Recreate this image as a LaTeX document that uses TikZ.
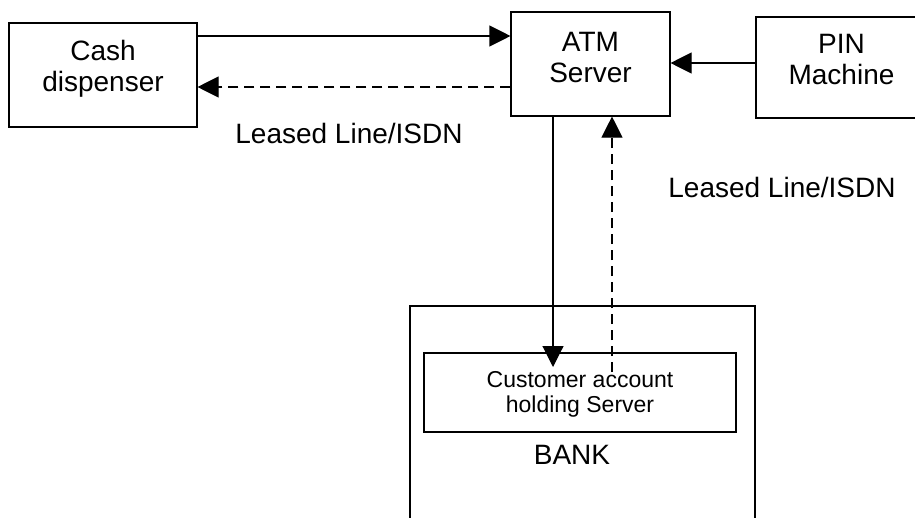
\documentclass[tikz,border=0pt]{standalone}
\usepackage{fontspec}
\setmainfont{Liberation Sans}
\usetikzlibrary{arrows.meta}

\begin{document}
\begin{tikzpicture}[x=1pt, y=-1pt,
  box/.style={draw, line width=1.1pt, inner sep=0pt},
  txt/.style={inner sep=0pt, align=center, font=\fontsize{28}{31}\selectfont},
  smalltxt/.style={inner sep=0pt, align=center, font=\fontsize{23}{25}\selectfont},
  conn/.style={line width=1.1pt, -{Triangle[length=21pt, width=21pt]}},
  dashconn/.style={conn, dash pattern=on 10pt off 6pt}]

  % page frame; everything outside it is cut off
  \clip (0,0) rectangle (915,517);

  % boxes
  \node[box, minimum width=188pt, minimum height=104pt] (cash) at (103,75) {};
  \node[box, minimum width=159pt, minimum height=104pt] (atm)  at (590.5,64) {};
  \node[box, minimum width=171pt, minimum height=101pt] (pin)  at (841.5,67.5) {};
  \node[box, minimum width=345pt, minimum height=240pt] (bank) at (582.5,426) {};
  \node[box, minimum width=312pt, minimum height=79pt]  (cust) at (580,392.5) {};

  % box texts
  \node[txt, anchor=north] (cashtxt) at ([yshift=-18pt]cash.north) {Cash\\dispenser};
  \node[txt, anchor=north] (atmtxt)  at ([yshift=-21pt]atm.north)  {ATM\\Server};
  \node[txt, anchor=north] (pintxt)  at ([yshift=-18pt]pin.north)  {PIN\\Machine};
  \node[smalltxt, anchor=north] (custtxt) at ([yshift=-19pt]cust.north) {Customer account\\holding Server};
  \node[txt, anchor=base] (banktxt) at (572,464) {BANK};

  % line labels
  \node[txt, anchor=base] (lease1) at (349,143) {Leased Line/ISDN};
  \node[txt, anchor=base] (lease2) at (782,197) {Leased Line/ISDN};

  % connector ends that reach into the customer server box
  \coordinate (downtip) at (553,367);
  \coordinate (upstart) at (612,372);

  % connectors
  \draw[conn]     (cash.east |- 0,36) -- (atm.west |- 0,36);
  \draw[dashconn] (atm.west |- 0,87)  -- (cash.east |- 0,87);
  \draw[conn]     (pin.west |- 0,63)  -- (atm.east |- 0,63);
  \draw[conn]     (atm.south -| downtip) -- (downtip);
  \draw[dashconn] (upstart) -- (atm.south -| upstart);
\end{tikzpicture}
\end{document}
